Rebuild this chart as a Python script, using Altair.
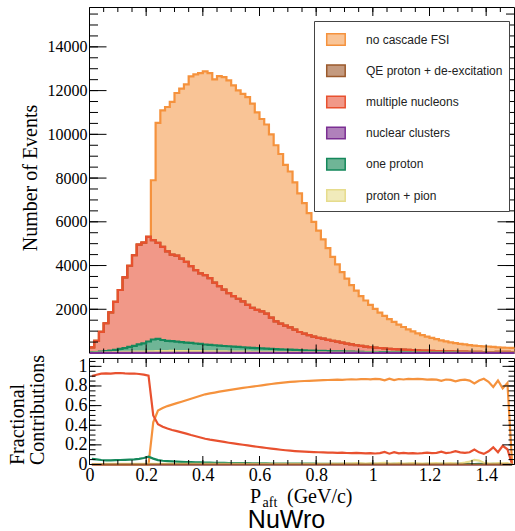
import altair as alt
import numpy as np
import pandas as pd

# ---------------------------------------------------------------------------
# Binning of the proton momentum after FSI
# ---------------------------------------------------------------------------
N_BINS = 90
P_MAX = 1.5  # GeV/c

processes = [
    "no cascade FSI",
    "QE proton + de-excitation",
    "multiple nucleons",
    "nuclear clusters",
    "one proton",
    "proton + pion",
]
line_colors = ["#f5923d", "#9b5a2c", "#e8512f", "#7b2f93", "#15885b", "#e6dc8c"]
fill_colors = ["#f9c496", "#c49a7f", "#f19888", "#b081bb", "#6fb596", "#f1ebbb"]

# pile order of the stack, bottom first
stack_order = ["nuclear clusters", "proton + pion", "one proton",
               "multiple nucleons", "QE proton + de-excitation", "no cascade FSI"]
# outlines are painted from the top of the pile downwards
outline_order = ["no cascade FSI", "QE proton + de-excitation", "multiple nucleons",
                 "one proton", "proton + pion", "nuclear clusters"]
ratio_order = ["nuclear clusters", "no cascade FSI", "multiple nucleons",
               "one proton", "proton + pion", "QE proton + de-excitation"]

# ---------------------------------------------------------------------------
# Events per bin for every FSI topology
# ---------------------------------------------------------------------------
no_cascade_fsi = [0, 0, 0, 0, 0, 0, 0, 0, 0, 0,
                  0, 0, 0, 2740, 5480, 6250, 6600, 6980, 7440, 7770,
                  8110, 8680, 8950, 9160, 9320, 9380, 9290, 9600, 9720, 9730,
                  9640, 9530, 9490, 9500, 9340, 9030, 8800, 8650, 8380, 8050,
                  7760, 7350, 7130, 6730, 6340, 5960, 5580, 5250, 4910, 4547,
                  4196, 3840, 3532, 3230, 2972, 2709, 2495, 2272, 2104, 1928,
                  1770, 1621, 1492, 1358, 1244, 1136, 1040, 939, 860, 779,
                  706, 645, 592, 538, 496, 452, 416, 381, 355, 329,
                  302, 286, 269, 254, 256, 233, 213, 202, 191, 187]
qe_deexcitation = [0] * N_BINS
multiple_nucleons = [235, 505, 906, 1276, 1752, 2197, 2692, 3237, 3714, 4142,
                     4570, 4606, 4785, 4543, 4396, 4256, 4093, 3955, 3930, 3819,
                     3693, 3511, 3356, 3227, 3171, 3045, 2866, 2721, 2581, 2432,
                     2311, 2203, 2098, 1950, 1824, 1744, 1689, 1598, 1431, 1270,
                     1171, 1090, 1020, 927, 829, 766, 705, 642, 592, 560,
                     520, 480, 445, 400, 365, 330, 300, 275, 250, 228,
                     208, 190, 172, 158, 145, 134, 123, 115, 106, 98,
                     92, 85, 79, 74, 69, 64, 60, 56, 53, 50,
                     47, 44, 42, 38, 33, 35, 40, 42, 43, 38]
nuclear_clusters = [1, 1, 2, 2, 3, 3, 4, 4, 5, 5,
                    6, 6, 7, 8, 9, 10, 10, 10, 10, 10,
                    9, 9, 9, 8, 8, 8, 8, 7, 7, 7,
                    6, 6, 6, 6, 5, 5, 5, 5, 4, 4,
                    4, 4, 4, 3, 3, 3, 3, 3, 3, 2,
                    2, 2, 2, 2, 2, 2, 2, 2, 1, 1,
                    1, 1, 1, 1, 1, 1, 1, 1, 1, 1,
                    1, 1, 1, 1, 0, 0, 0, 0, 0, 0,
                    0, 0, 0, 0, 0, 0, 0, 0, 0, 0]
one_proton = [14, 28, 43, 55, 74, 104, 143, 175, 219, 268,
              323, 378, 452, 538, 561, 503, 468, 452, 428, 411,
              389, 372, 348, 331, 309, 296, 279, 266, 249, 239,
              224, 213, 199, 191, 179, 171, 159, 151, 141, 135,
              125, 119, 110, 105, 96, 91, 83, 79, 71, 68,
              61, 58, 52, 50, 44, 43, 38, 37, 32, 31,
              29, 27, 25, 23, 21, 20, 18, 17, 16, 15,
              14, 13, 12, 11, 10, 9, 9, 8, 8, 7,
              7, 6, 6, 5, 5, 5, 4, 4, 4, 3]
proton_pion = [10, 16, 19, 27, 31, 36, 41, 44, 52, 55,
               61, 60, 66, 71, 74, 81, 79, 83, 82, 80,
               79, 78, 77, 74, 72, 71, 67, 66, 63, 62,
               59, 58, 57, 53, 52, 50, 47, 46, 44, 41,
               40, 37, 36, 35, 32, 30, 29, 26, 24, 23,
               21, 20, 19, 18, 17, 16, 15, 14, 13, 12,
               12, 11, 10, 10, 9, 9, 8, 8, 7, 7,
               7, 6, 6, 6, 5, 5, 5, 5, 4, 4,
               4, 4, 3, 3, 3, 3, 3, 2, 2, 2]

# ---------------------------------------------------------------------------
# Fractional contribution of each topology per bin
# ---------------------------------------------------------------------------
frac_no_cascade = [0, 0, 0, 0, 0, 0, 0, 0, 0, 0,
                   0, 0, 0, 0.43, 0.55, 0.575, 0.595, 0.61, 0.625, 0.64,
                   0.655, 0.67, 0.685, 0.70, 0.715, 0.725, 0.733, 0.742, 0.75, 0.758,
                   0.765, 0.773, 0.78, 0.787, 0.793, 0.80, 0.807, 0.814, 0.82, 0.826,
                   0.832, 0.837, 0.841, 0.845, 0.848, 0.851, 0.853, 0.855, 0.857, 0.859,
                   0.861, 0.862, 0.864, 0.862, 0.866, 0.868, 0.866, 0.869, 0.871, 0.868,
                   0.872, 0.869, 0.857, 0.874, 0.86, 0.871, 0.866, 0.872, 0.869, 0.873,
                   0.869, 0.864, 0.868, 0.865, 0.852, 0.866, 0.862, 0.848, 0.86, 0.865,
                   0.855, 0.825, 0.856, 0.873, 0.842, 0.79, 0.856, 0.775, 0.83, 0]
frac_qe = [0.0] * N_BINS
frac_multiple = [0.90, 0.915, 0.925, 0.928, 0.925, 0.93, 0.932, 0.928, 0.926, 0.927,
                 0.922, 0.915, 0.905, 0.50, 0.41, 0.385, 0.366, 0.352, 0.34, 0.327,
                 0.314, 0.30, 0.288, 0.275, 0.262, 0.253, 0.246, 0.238, 0.23, 0.222,
                 0.215, 0.208, 0.201, 0.194, 0.188, 0.181, 0.175, 0.168, 0.162, 0.156,
                 0.15, 0.145, 0.141, 0.137, 0.134, 0.131, 0.129, 0.127, 0.125, 0.123,
                 0.121, 0.12, 0.118, 0.12, 0.117, 0.115, 0.118, 0.115, 0.113, 0.116,
                 0.112, 0.116, 0.128, 0.11, 0.125, 0.113, 0.119, 0.113, 0.116, 0.112,
                 0.115, 0.12, 0.116, 0.118, 0.13, 0.117, 0.122, 0.136, 0.124, 0.118,
                 0.125, 0.152, 0.124, 0.108, 0.135, 0.175, 0.125, 0.19, 0.155, 0]
frac_clusters = [0.001, 0.001, 0.001, 0.001, 0.001, 0.001, 0.001, 0.001, 0.001, 0.001,
                 0.001, 0.001, 0.001, 0.001, 0.001, 0.001, 0.001, 0.001, 0.001, 0.001,
                 0.001, 0.001, 0.001, 0.001, 0.001, 0.001, 0.001, 0.001, 0.001, 0.001,
                 0.001, 0.001, 0.001, 0.001, 0.001, 0.001, 0.001, 0.001, 0.001, 0.001,
                 0.001, 0.001, 0.001, 0.001, 0.001, 0.001, 0.001, 0.001, 0.001, 0.001,
                 0.001, 0.001, 0.001, 0.001, 0.001, 0.001, 0.001, 0.001, 0.001, 0.001,
                 0.001, 0.001, 0.001, 0.001, 0.001, 0.001, 0.001, 0.001, 0.001, 0.001,
                 0.001, 0.001, 0.001, 0.001, 0, 0, 0, 0, 0, 0,
                 0, 0, 0, 0, 0, 0, 0, 0, 0, 0]
frac_one_proton = [0.058, 0.052, 0.046, 0.042, 0.043, 0.045, 0.046, 0.048, 0.05, 0.053,
                   0.058, 0.066, 0.08, 0.06, 0.045, 0.038, 0.034, 0.031, 0.029, 0.027,
                   0.025, 0.024, 0.022, 0.021, 0.02, 0.019, 0.018, 0.017, 0.016, 0.015,
                   0.015, 0.014, 0.013, 0.013, 0.012, 0.012, 0.011, 0.011, 0.01, 0.01,
                   0.01, 0.009, 0.009, 0.009, 0.008, 0.008, 0.008, 0.008, 0.007, 0.007,
                   0.007, 0.006, 0.007, 0.006, 0.006, 0.006, 0.007, 0.006, 0.005, 0.006,
                   0.006, 0.005, 0.006, 0.005, 0.006, 0.005, 0.005, 0.006, 0.005, 0.005,
                   0.005, 0.006, 0.005, 0.005, 0.006, 0.005, 0.005, 0.007, 0.006, 0.009,
                   0.006, 0.005, 0.006, 0.005, 0.005, 0.006, 0.005, 0.004, 0.005, 0]
frac_proton_pion = [0.004, 0.005, 0.005, 0.006, 0.006, 0.006, 0.007, 0.007, 0.007, 0.007,
                    0.007, 0.007, 0.007, 0.007, 0.007, 0.007, 0.007, 0.007, 0.007, 0.007,
                    0.006, 0.006, 0.006, 0.006, 0.006, 0.006, 0.006, 0.006, 0.006, 0.006,
                    0.006, 0.006, 0.006, 0.006, 0.006, 0.006, 0.006, 0.006, 0.006, 0.006,
                    0.006, 0.006, 0.006, 0.006, 0.006, 0.006, 0.006, 0.006, 0.006, 0.006,
                    0.007, 0.008, 0.006, 0.01, 0.012, 0.009, 0.014, 0.011, 0.008, 0.012,
                    0.01, 0.014, 0.016, 0.012, 0.01, 0.013, 0.009, 0.011, 0.015, 0.012,
                    0.01, 0.009, 0.012, 0.014, 0.01, 0.011, 0.013, 0.009, 0.012, 0.02,
                    0.03, 0.046, 0.04, 0.018, 0.012, 0.01, 0.014, 0.011, 0.013, 0]

# axis tick positions
events_major = [2000, 4000, 6000, 8000, 10000, 12000, 14000]
events_minor = list(range(500, 15800, 500))
p_major = [0, 0.2, 0.4, 0.6, 0.8, 1.0, 1.2, 1.4]
p_minor = [round(0.05 * i, 2) for i in range(1, 30)]
ratio_major = [0, 0.2, 0.4, 0.6, 0.8, 1.0]
ratio_minor = [round(0.05 * i, 2) for i in range(1, 22)]

# ---------------------------------------------------------------------------
# Tables
# ---------------------------------------------------------------------------
edges = np.linspace(0.0, P_MAX, N_BINS + 1)
centres = 0.5 * (edges[:-1] + edges[1:])

events = {
    "no cascade FSI": no_cascade_fsi,
    "QE proton + de-excitation": qe_deexcitation,
    "multiple nucleons": multiple_nucleons,
    "nuclear clusters": nuclear_clusters,
    "one proton": one_proton,
    "proton + pion": proton_pion,
}
fractions = {
    "no cascade FSI": frac_no_cascade,
    "QE proton + de-excitation": frac_qe,
    "multiple nucleons": frac_multiple,
    "nuclear clusters": frac_clusters,
    "one proton": frac_one_proton,
    "proton + pion": frac_proton_pion,
}

hist = pd.DataFrame([
    {"k": i, "lo": float(edges[i]), "hi": float(edges[i + 1]), "process": name,
     "events": n, "pile": stack_order.index(name)}
    for name in stack_order for i, n in enumerate(events[name])
])
ratio = pd.DataFrame([
    {"p": float(centres[i]), "process": name, "fraction": f}
    for name in processes for i, f in enumerate(fractions[name])
])

# ---------------------------------------------------------------------------
# Geometry (pixels inside the padded view)
# ---------------------------------------------------------------------------
W = 425
H_TOP = 345.5
Y_LOW_TOP = 351
H = 457

SERIF = "Liberation Serif"
SANS = "Liberation Sans"

x_scale = alt.Scale(domain=[0, P_MAX], nice=False, zero=False)
y_events = alt.Scale(domain=[0, 15800], range=[H_TOP, 0], nice=False, zero=False)
y_ratio = alt.Scale(domain=[0, 1.08], range=[H, Y_LOW_TOP], nice=False, zero=False)

line_of = dict(zip(processes, line_colors))
fill_of = dict(zip(processes, fill_colors))

layers = []

# momentum labels under the lower panel (first layer that carries an x encoding)
p_axis = alt.Axis(
    orient="bottom", values=p_major, format="~g", grid=False, domain=False, ticks=False,
    tickSize=0, labelPadding=2, labelFont=SERIF, labelFontSize=18, labelColor="black",
    labelFlush=False, labelOverlap=False, title=None,
)
layers.append(
    alt.Chart(pd.DataFrame({"v": p_major})).mark_point(opacity=0).encode(
        x=alt.X("v:Q", scale=x_scale, axis=p_axis), y=alt.value(H)
    )
)

# panel frames
one_row = pd.DataFrame({"f": [0]})
for top, bottom in [(0, H_TOP), (Y_LOW_TOP, H)]:
    layers.append(
        alt.Chart(one_row).mark_rect(fillOpacity=0, stroke="black", strokeWidth=1).encode(
            x=alt.value(0), x2=alt.value(W), y=alt.value(top), y2=alt.value(bottom)
        )
    )

# stacked histogram: cumulative edges per bin, two points (low and high edge) per bin
stacked = alt.Chart(hist).transform_stack(
    stack="events", groupby=["k"], sort=[alt.SortField("pile", order="ascending")], as_=["y0", "y1"]
)
edge_rows = stacked.transform_fold(["lo", "hi"], as_=["side", "edge"]).transform_calculate(
    seq="2 * datum.k + (datum.side === 'hi' ? 1 : 0)"
)

events_axis = alt.Axis(
    orient="left", values=events_major, format="d", grid=False, domain=False,
    ticks=False, tickSize=0, labelPadding=2.5, labelFont=SERIF, labelFontSize=16,
    labelColor="black", labelOverlap=False,
    title="Number of Events", titleFont=SERIF, titleFontSize=20, titleFontWeight="normal",
    titleColor="black", titleAngle=270, titleAlign="center", titleBaseline="alphabetic",
    titleX=-53, titleY=170,
)

for j, name in enumerate(stack_order):
    layers.append(
        edge_rows.transform_filter(alt.datum.process == name).mark_area(
            color=fill_of[name], opacity=1
        ).encode(
            x=alt.X("edge:Q", scale=x_scale, axis=None),
            y=alt.Y("y1:Q", scale=y_events, axis=events_axis if j == 0 else None),
            y2="y0:Q",
        )
    )

for name in outline_order:
    layers.append(
        edge_rows.transform_filter(alt.datum.process == name).mark_line(
            color=line_of[name], strokeWidth=2.2
        ).encode(
            x=alt.X("edge:Q", scale=x_scale, axis=None),
            y=alt.Y("y1:Q", scale=y_events, axis=None),
            order="seq:Q",
        )
    )

# legend swatches: light fill with the outline colour as border
legend_layer = alt.Chart(hist).transform_filter("false").mark_rect(strokeWidth=1.5).encode(
    fill=alt.Fill("process:N", scale=alt.Scale(domain=processes, range=fill_colors),
                  legend=alt.Legend(
                      title=None, orient="none", legendX=224.5, legendY=13.5, direction="vertical",
                      symbolType="M-0.5,-0.5H1.1V0.5H-0.5Z", symbolSize=533,
                      symbolStrokeWidth=1.5, labelFont=SANS, labelFontSize=12,
                      labelColor="#222222", labelOffset=21, labelLimit=300,
                      rowPadding=9.2, padding=6, strokeColor="#444444", fillColor="white",
                  )),
    stroke=alt.Stroke("process:N", scale=alt.Scale(domain=processes, range=line_colors),
                      legend=alt.Legend(title=None)),
)
layers.append(legend_layer)


def y_tick_rules(values, scale, length):
    data = pd.DataFrame({"v": values})
    out = []
    for x0, x1 in [(0, length), (W - length, W)]:
        out.append(alt.Chart(data).mark_rule(color="black", strokeWidth=1).encode(
            y=alt.Y("v:Q", scale=scale, axis=None), x=alt.value(x0), x2=alt.value(x1)))
    return out


def x_tick_rules(values, y_edge, length):
    data = pd.DataFrame({"v": values})
    return alt.Chart(data).mark_rule(color="black", strokeWidth=1).encode(
        x=alt.X("v:Q", scale=x_scale, axis=None), y=alt.value(y_edge), y2=alt.value(y_edge + length))


# fractional contributions
ratio_axis = alt.Axis(
    orient="left", values=ratio_major, format="~g", grid=False, domain=False, ticks=False,
    tickSize=0, labelPadding=2.5, labelFont=SERIF, labelFontSize=18, labelColor="black",
    labelOverlap=False, title=["Fractional", "Contributions"], titleFont=SERIF,
    titleFontSize=20, titleFontWeight="normal", titleColor="black", titleAngle=270,
    titleAlign="left", titleBaseline="alphabetic", titleLineHeight=20,
    titleX=-66.5, titleY=H,
)
for j, name in enumerate(ratio_order):
    layers.append(
        alt.Chart(ratio).transform_filter(alt.datum.process == name).mark_line(
            color=line_of[name], strokeWidth=2.2
        ).encode(
            x=alt.X("p:Q", scale=x_scale, axis=None),
            y=alt.Y("fraction:Q", scale=y_ratio, axis=ratio_axis if j == 0 else None),
        )
    )

# inward ticks on all edges
layers += y_tick_rules(events_minor, y_events, 8.5)
layers += y_tick_rules(events_major, y_events, 17)
layers += y_tick_rules(ratio_minor, y_ratio, 6)
layers += y_tick_rules(ratio_major, y_ratio, 12)
for y_edge, sign in [(0, 1), (H_TOP, -1), (Y_LOW_TOP, 1), (H, -1)]:
    layers.append(x_tick_rules(p_minor, y_edge, 4.5 * sign))
    layers.append(x_tick_rules(p_major, y_edge, 8.5 * sign))

# x-axis title with subscript, and generator label
for text, size, font, align, xpos, ypos in [
    ("P", 20, SERIF, "left", 160.5, 495),
    ("aft", 14, SERIF, "left", 173, 499),
    ("(GeV/c)", 20, SERIF, "left", 197.5, 495),
    ("NuWro", 25, SANS, "center", 197, 520.5),
]:
    layers.append(
        alt.Chart(pd.DataFrame({"t": [text]})).mark_text(
            font=font, fontSize=size, align=align, baseline="alphabetic", color="black"
        ).encode(text="t:N", x=alt.value(xpos), y=alt.value(ypos))
    )

chart = alt.layer(*layers).resolve_scale(y="independent").resolve_axis(
    x="independent", y="independent"
).properties(
    width=W, height=H,
    padding={"left": 89.5, "top": 7.5, "right": 0.5, "bottom": 66.5},
    autosize=alt.AutoSizeParams(type="none"),
    background="white",
).configure_view(stroke=None)

chart.save("out.html", embed_options={"renderer": "svg", "actions": False})
